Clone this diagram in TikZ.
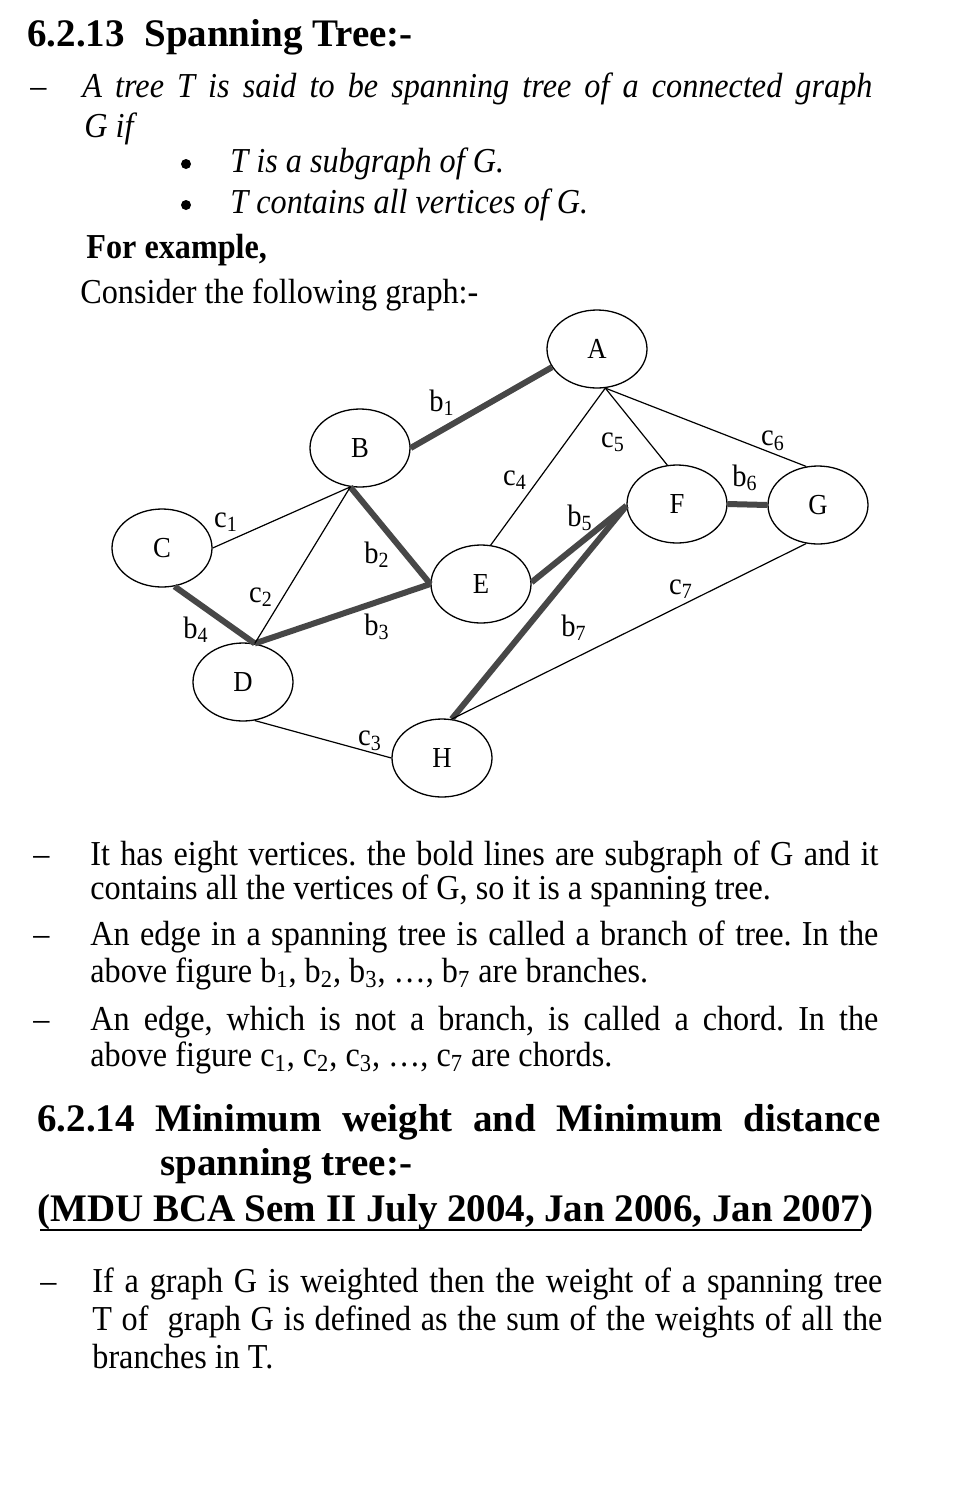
\documentclass[tikz,border=0pt]{standalone}
\usepackage{fontspec}
\setmainfont{Liberation Serif}[FakeStretch=0.92]
\newfontfamily\headfont{Liberation Serif}
\usetikzlibrary{shapes.geometric}
\frenchspacing

% justified line of a given width
\newcommand{\jline}[2]{\makebox[#1][s]{#2}}
\newcommand{\sub}[1]{\textsubscript{#1}}

\tikzset{
  vertex/.style={draw, ellipse, line width=0.65pt, minimum width=50pt,
    minimum height=39pt, inner sep=0pt, font=\fontsize{14.5}{16}\selectfont},
  branch/.style={line width=3pt, black!72},
  chord/.style={line width=0.6pt},
  elabel/.style={inner sep=0pt, font=\fontsize{15.5}{18}\selectfont},
  dot/.style={circle, fill, inner sep=0pt, minimum size=5pt},
  txt/.style={anchor=base west, inner sep=0pt, font=\fontsize{17.5}{20}\selectfont},
  ittxt/.style={txt, font=\fontsize{17.5}{20}\selectfont\itshape},
  head/.style={anchor=base west, inner sep=0pt, font=\fontsize{19.5}{22}\headfont\bfseries},
}

\begin{document}
\begin{tikzpicture}[x=0.5pt,y=-0.5pt]
  \useasboundingbox[fill=white] (0,0) rectangle (962,1506);

  % ---- upper text
  \node[head] (h1) at (27,46) {6.2.13\ \ Spanning Tree:-};
  \node[txt] (d1) at (30,97) {--};
  \node[ittxt] (l1) at (82,97)
    {\jline{395pt}{A tree T is said to be spanning tree of a connected graph}};
  \node[ittxt] (l2) at (84,137) {G if};
  \node[dot] (bu1) at (186,164) {};
  \node[ittxt] (l3) at (230,172) {T is a subgraph of G.};
  \node[dot] (bu2) at (186,205) {};
  \node[ittxt] (l4) at (230,213) {T contains all vertices of G.};
  \node[txt,font=\fontsize{17.5}{20}\selectfont\bfseries] (l5) at (86,258) {For example,};
  \node[txt] (l6) at (80,303) {Consider the following graph:-};

  % ---- the graph
  \foreach \name/\x/\y in {A/597/349, B/360/448, C/162/548, D/243/682,
                           E/481/584, F/677/504, G/818/505, H/442/758}
    \node[vertex] (\name) at (\x,\y) {\name};

  % branches
  \draw[branch] (B.east) -- (A.202);
  \draw[branch] (B.-104) -- (E.west);
  \draw[branch] (D.73) -- (E.west);
  \draw[branch] (C.-72) -- (D.73);
  \draw[branch] (E.2) -- (F.182);
  \draw[branch] (F.east) -- (G.west);
  \draw[branch] (H.76) -- (F.182);

  % chords
  \draw[chord] (C.east) -- (B.-104);
  \draw[chord] (D.73) -- (B.-104);
  \draw[chord] (D.-73) -- (H.west);
  \draw[chord] (E.76) -- (A.-78);
  \draw[chord] (A.-78) -- (F.104);
  \draw[chord] (A.-78) -- (G.107);
  \draw[chord] (G.-107) -- (H.76);

  % edge labels
  \node[elabel] (lb1) at (442,403) {b\sub{1}};
  \node[elabel] (lb2) at (377,555) {b\sub{2}};
  \node[elabel] (lb3) at (377,627) {b\sub{3}};
  \node[elabel] (lb4) at (196,630) {b\sub{4}};
  \node[elabel] (lb5) at (580,518) {b\sub{5}};
  \node[elabel] (lb6) at (745,478) {b\sub{6}};
  \node[elabel] (lb7) at (574,628) {b\sub{7}};
  \node[elabel] (lc1) at (226,522) {c\sub{1}};
  \node[elabel] (lc2) at (261,597) {c\sub{2}};
  \node[elabel] (lc3) at (370,741) {c\sub{3}};
  \node[elabel] (lc4) at (515,480) {c\sub{4}};
  \node[elabel] (lc5) at (613,442) {c\sub{5}};
  \node[elabel] (lc6) at (773,441) {c\sub{6}};
  \node[elabel] (lc7) at (681,589) {c\sub{7}};

  % ---- lower text
  \node[txt] (d2) at (33,865) {--};
  \node[txt] (p1a) at (90,865)
    {\jline{394pt}{It has eight vertices. the bold lines are subgraph of G and it}};
  \node[txt] (p1b) at (90,899) {contains all the vertices of G, so it is a spanning tree.};
  \node[txt] (d3) at (33,945) {--};
  \node[txt] (p2a) at (90,945)
    {\jline{394pt}{An edge in a spanning tree is called a branch of tree. In the}};
  \node[txt] (p2b) at (90,982)
    {above figure b\sub{1}, b\sub{2}, b\sub{3}, \dots, b\sub{7} are branches.};
  \node[txt] (d4) at (33,1030) {--};
  \node[txt] (p3a) at (90,1030)
    {\jline{394pt}{An edge, which is not a branch, is called a chord. In the}};
  \node[txt] (p3b) at (90,1066)
    {above figure c\sub{1}, c\sub{2}, c\sub{3}, \dots, c\sub{7} are chords.};

  \node[head] (h2a) at (37,1131)
    {\jline{421.5pt}{6.2.14 Minimum weight and Minimum distance}};
  \node[head] (h2b) at (160,1175) {spanning tree:-};
  \node[head] (h2c) at (37,1221)
    {\jline{418pt}{(MDU BCA Sem II July 2004, Jan 2006, Jan 2007)}};
  \draw[line width=1.2pt] (40,1230) -- (862,1230);

  \node[txt] (d5) at (40,1292) {--};
  \node[txt] (p4a) at (92,1292)
    {\jline{395pt}{If a graph G is weighted then the weight of a spanning tree}};
  \node[txt] (p4b) at (92,1330)
    {\jline{395pt}{T of\ \ graph G is defined as the sum of the weights of all the}};
  \node[txt] (p4c) at (92,1368) {branches in T.};
\end{tikzpicture}
\end{document}
